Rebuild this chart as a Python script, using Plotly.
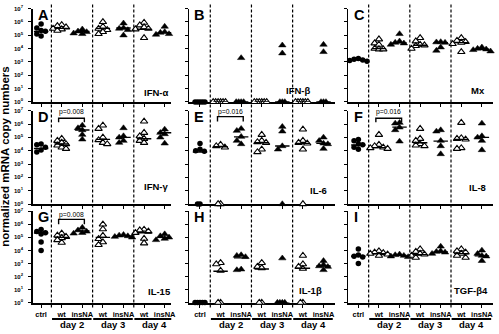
import plotly.graph_objects as go

# ---------------- data (log10 of normalized copy numbers; 0 = not detected, drawn on the axis) ----
GROUPS = ["ctrl", "wt day 2", "insNA day 2", "wt day 3", "insNA day 3", "wt day 4", "insNA day 4"]
TICK_TEXT = ["ctrl", "wt", "insNA", "wt", "insNA", "wt", "insNA"]
DAYS = ["day 2", "day 3", "day 4"]
PANEL_LETTERS = ["A", "B", "C", "D", "E", "F", "G", "H", "I"]
GENES = ["IFN-α", "IFN-β", "Mx", "IFN-γ", "IL-6", "IL-8", "IL-15", "IL-1β", "TGF-β4"]
Y_TICK_EXP = [0, 1, 2, 3, 4, 5, 6, 7]

IFN_A = [[5.85, 5.55, 5.35, 5.3, 5.1, 4.95], [5.78, 5.7, 5.6, 5.5, 5.45, 5.35], [5.45, 5.3, 5.25, 5.15, 5.1],
         [6.0, 5.65, 5.5, 5.4, 5.25, 5.1], [5.9, 5.55, 5.5, 5.4, 5.0], [5.95, 5.75, 5.6, 5.5, 5.45, 4.8],
         [5.65, 5.25, 5.2, 5.1, 5.05]]
IFN_A_MED = [5.28, 5.52, 5.28, 5.52, 5.55, 5.45, 5.2]

IFN_B = [[0, 0, 0, 0, 0], [0, 0, 0, 0, 0, 0], [3.3, 0, 0, 0, 0], [0, 0, 0, 0, 0, 0],
         [4.25, 3.65, 0, 0, 0], [0, 0, 0, 0, 0, 0], [4.3, 3.75, 0, 0, 0]]
IFN_B_MED = [0, 0, 0, 0, 0, 0, 0]

MX = [[3.25, 3.2, 3.15, 3.1, 3.05], [4.7, 4.4, 4.3, 4.0, 3.95, 3.95], [5.1, 4.55, 4.45, 4.4, 4.3],
      [4.8, 4.55, 4.3, 4.25, 4.2, 4.0], [4.5, 4.48, 4.45, 4.1, 3.85], [4.8, 4.6, 4.5, 4.45, 4.35, 3.75],
      [4.1, 4.0, 3.95, 3.9, 3.8]]
MX_MED = [3.15, 4.0, 4.43, 4.25, 4.45, 4.45, 3.95]

IFN_G = [[4.5, 4.45, 4.25, 4.2, 4.05, 3.9], [4.9, 4.75, 4.6, 4.5, 4.4, 4.25, 4.15], [5.9, 5.7, 5.55, 5.2, 4.85],
         [5.9, 5.65, 5.0, 4.8, 4.6, 4.5], [5.7, 5.1, 5.0, 4.75, 4.6], [6.2, 5.35, 5.1, 4.9, 4.75, 4.6],
         [5.6, 5.35, 5.25, 5.0, 4.55]]
IFN_G_MED = [4.17, 4.5, 5.55, 4.85, 5.0, 4.9, 5.35]

IL6 = [[4.55, 4.1, 4.0, 3.95, 0, 0], [4.45, 4.35, 4.25, 0, 0], [5.65, 5.5, 5.05, 4.75, 4.5],
       [5.2, 4.75, 4.65, 4.6, 4.1, 3.9], [5.8, 5.45, 4.35, 4.1, 0], [5.6, 4.75, 4.6, 4.55, 4.1, 0],
       [5.0, 4.75, 4.55, 4.5, 4.15]]
IL6_MED = [3.9, 4.3, 5.04, 4.6, 4.35, 4.55, 4.55]

IL8 = [[4.85, 4.75, 4.5, 4.45, 4.25, 4.1], [5.2, 4.45, 4.35, 4.25, 4.2, 4.15], [6.1, 6.05, 5.75, 5.55, 4.7],
       [5.65, 4.9, 4.75, 4.5, 4.4, 4.35], [5.55, 5.45, 4.75, 4.35, 3.75], [6.1, 4.95, 4.9, 4.85, 4.2, 4.15],
       [6.05, 5.1, 5.0, 4.75, 4.05]]
IL8_MED = [4.43, 4.23, 5.77, 4.6, 4.72, 4.85, 5.0]

IL15 = [[5.6, 5.45, 5.35, 5.25, 4.65, 4.0], [5.3, 5.15, 5.05, 4.95, 4.8, 4.6], [5.75, 5.55, 5.45, 5.35, 5.3],
        [6.0, 5.63, 5.13, 4.88, 4.63, 4.43], [5.2, 5.15, 5.1, 5.05, 5.0], [5.6, 5.55, 5.45, 5.35, 4.9, 4.55],
        [5.25, 5.1, 5.0, 4.9, 4.8]]
IL15_MED = [5.33, 5.0, 5.5, 5.0, 5.12, 5.35, 5.0]

IL1B = [[0, 0, 0, 0, 0], [3.05, 2.95, 2.45, 0, 0], [3.65, 3.6, 3.5, 2.55, 2.5], [3.05, 2.75, 2.65, 0, 0],
        [3.4, 0, 0, 0, 0], [3.6, 2.95, 2.75, 2.6, 0, 0], [3.2, 2.9, 2.8, 2.75, 2.5]]
IL1B_MED = [0, 2.4, 3.43, 2.58, 0, 2.63, 2.8]

TGFB4 = [[4.1, 3.65, 3.55, 3.5, 3.0], [3.95, 3.85, 3.8, 3.75, 3.7, 3.6], [3.7, 3.65, 3.6, 3.55, 3.5],
         [4.1, 3.9, 3.75, 3.7, 3.6, 3.45], [4.3, 3.95, 3.9, 3.85, 3.75], [4.1, 3.95, 3.85, 3.75, 3.6, 3.45],
         [4.0, 3.75, 3.6, 3.55, 3.2]]
TGFB4_MED = [3.55, 3.75, 3.62, 3.68, 3.88, 3.75, 3.58]

PANEL_DATA = [IFN_A, IFN_B, MX, IFN_G, IL6, IL8, IL15, IL1B, TGFB4]
PANEL_MED = [IFN_A_MED, IFN_B_MED, MX_MED, IFN_G_MED, IL6_MED, IL8_MED, IL15_MED, IL1B_MED, TGFB4_MED]

# significance (panel index -> label), between wt and insNA of day 2
P_LABELS = {3: "p=0.008", 4: "p=0.016", 5: "p=0.016", 6: "p=0.008"}

# ---------------- layout geometry (pixels of the 499x334 image) ----------------
W, H = 499, 334
COL_PX = [(33, 173), (191, 338), (352, 498)]
ROW_PX = [(4.7, 100), (109, 204.3), (211.7, 305)]
COL_RANGE = [(-0.41, 6.32), (-0.53, 6.54), (-0.48, 6.54)]
FONT = "Liberation Sans, Arial, sans-serif"

positions = list(range(len(GROUPS)))


def spread(vals, step=0.21, tol=0.3):
    order = sorted(range(len(vals)), key=lambda i: -vals[i])
    placed, res = [], [0.0] * len(vals)
    for i in order:
        v = vals[i]
        st = 0.12 if v == 0 else step  # undetected points pile up tightly on the axis
        used = [o for (pv, o) in placed if abs(pv - v) < tol]
        for s in [0, -1, 1, -2, 2, -3, 3, -4, 4]:
            o = s * st
            if all(abs(o - u) > 1e-9 for u in used):
                break
        placed.append((v, o))
        res[i] = o
    return res


def px_x(p):
    return p / W


def px_y(p):
    return 1 - p / H


fig = go.Figure()
layout = dict(width=W, height=H, autosize=False, margin=dict(l=0, r=0, t=0, b=0, pad=0),
              paper_bgcolor="white", plot_bgcolor="white", showlegend=False,
              font=dict(family=FONT, color="black"))
annotations, shapes = [], []

for k in range(9):
    r, c = divmod(k, 3)
    idx = k + 1
    xa = "x" if idx == 1 else f"x{idx}"
    ya = "y" if idx == 1 else f"y{idx}"
    data = PANEL_DATA[k]
    med = PANEL_MED[k]

    for g, vals in enumerate(data):
        offs = spread(vals)
        xs = [positions[g] + o for o in offs]
        ys = [10 ** v for v in vals]
        if g == 0:
            marker = dict(symbol="circle", size=5.5, color="black", line=dict(width=0))
        elif g % 2 == 1:
            marker = dict(symbol="triangle-up", size=6.5, color="white", line=dict(color="black", width=1.1))
        else:
            marker = dict(symbol="triangle-up", size=6.5, color="black", line=dict(color="black", width=0.5))
        fig.add_trace(go.Scatter(x=xs, y=ys, mode="markers", marker=marker, xaxis=xa, yaxis=ya,
                                 cliponaxis=False, hoverinfo="skip"))

    mx, my = [], []
    for g, m in enumerate(med):
        mx += [positions[g] - 0.35, positions[g] + 0.35, None]
        my += [10 ** m, 10 ** m, None]
    fig.add_trace(go.Scatter(x=mx, y=my, mode="lines", line=dict(color="black", width=1.4),
                             xaxis=xa, yaxis=ya, cliponaxis=False, hoverinfo="skip"))

    if k in P_LABELS:
        x0, x1 = positions[1] - 0.15, positions[2] + 0.1
        top, leg, txt = (6.43, 6.14, 6.93) if r == 1 else (6.38, 6.0, 6.75)
        if k == 4:
            top, leg = 6.56, 6.19
        fig.add_trace(go.Scatter(x=[x0, x0, x1, x1], y=[10 ** leg, 10 ** top, 10 ** top, 10 ** leg],
                                 mode="lines", line=dict(color="black", width=1.4),
                                 xaxis=xa, yaxis=ya, cliponaxis=False, hoverinfo="skip"))
        annotations.append(dict(x=(x0 + x1) / 2, y=txt, xref=xa, yref=ya, text=P_LABELS[k],
                                showarrow=False, font=dict(size=6.8, family=FONT, color="black"),
                                yanchor="middle"))

    x0p, x1p = COL_PX[c]
    y0p, y1p = ROW_PX[r]
    layout["xaxis" if idx == 1 else f"xaxis{idx}"] = dict(
        domain=[px_x(x0p), px_x(x1p)], anchor=ya, range=list(COL_RANGE[c]),
        showline=True, linecolor="black", linewidth=2, ticks="outside", ticklen=3, tickwidth=1,
        tickcolor="black", tickvals=positions, ticktext=TICK_TEXT, showticklabels=(r == 2),
        tickfont=dict(size=7.5, family=FONT, weight="bold"), showgrid=False, zeroline=False,
        fixedrange=True, layer="below traces")
    layout["yaxis" if idx == 1 else f"yaxis{idx}"] = dict(
        domain=[px_y(y1p), px_y(y0p)], anchor=xa, type="log", range=[0, 7],
        showline=True, linecolor="black", linewidth=1.5, ticks="outside", ticklen=3, tickwidth=1,
        tickcolor="black", tickvals=[10 ** e for e in Y_TICK_EXP],
        ticktext=[f"10<sup>{e}</sup>" for e in Y_TICK_EXP], showticklabels=(c == 0),
        tickfont=dict(size=6, family=FONT, weight="bold"), ticklabelstandoff=4,
        showgrid=False, zeroline=False, fixedrange=True, layer="below traces")

    # panel letter
    letter_x = [36, 194, 356][c]
    annotations.append(dict(x=px_x(letter_x), y=px_y(y0p - 4), xref="paper", yref="paper",
                            text=f"<b>{PANEL_LETTERS[k]}</b>", showarrow=False, xanchor="left",
                            yanchor="top", font=dict(size=14.5, family=FONT)))

# gene labels (right edge px, vertical centre px)
GENE_POS = [(172, 90), (315, 88), (492, 88), (172, 186), (332, 190), (493, 187), (175, 294), (327, 293), (495, 293)]
for k, (gx, gy) in enumerate(GENE_POS):
    annotations.append(dict(x=px_x(gx), y=px_y(gy), xref="paper", yref="paper",
                            text=f"<b>{GENES[k]}</b>", showarrow=False, xanchor="right",
                            yanchor="middle", font=dict(size=9.5, family=FONT)))

# dashed separators between days, spanning all rows
for c in range(3):
    xa = "x" if c == 0 else f"x{c + 1}"
    for sep in [0.5, 2.5, 4.5]:
        shapes.append(dict(type="line", xref=xa, yref="paper", x0=sep, x1=sep,
                           y0=px_y(310), y1=1.0, line=dict(color="black", width=1.2, dash="3px,2px")))

# day labels with bars under the bottom row
for c in range(3):
    xa = f"x{7 + c}"
    for d, day in enumerate(DAYS):
        pw, pi = positions[1 + 2 * d], positions[2 + 2 * d]
        shapes.append(dict(type="line", xref=xa, yref="paper", x0=pw - 0.47, x1=pi + 0.45,
                           y0=px_y(321.7), y1=px_y(321.7), line=dict(color="black", width=2)))
        annotations.append(dict(x=(pw + pi) / 2, y=px_y(327.8), xref=xa, yref="paper",
                                text=f"<b>{day}</b>", showarrow=False, yanchor="middle",
                                font=dict(size=9.5, family=FONT)))

# shared y title
annotations.append(dict(x=px_x(5), y=px_y(156), xref="paper", yref="paper",
                        text="<b>normalized mRNA copy numbers</b>", showarrow=False, textangle=-90,
                        xanchor="center", yanchor="middle", font=dict(size=11.5, family=FONT)))

layout["annotations"] = annotations
layout["shapes"] = shapes
fig.update_layout(**layout)
fig.write_html("out.html", config={"displayModeBar": False, "staticPlot": True},
               post_script="document.body.style.margin='0px';document.body.style.padding='0px';")
